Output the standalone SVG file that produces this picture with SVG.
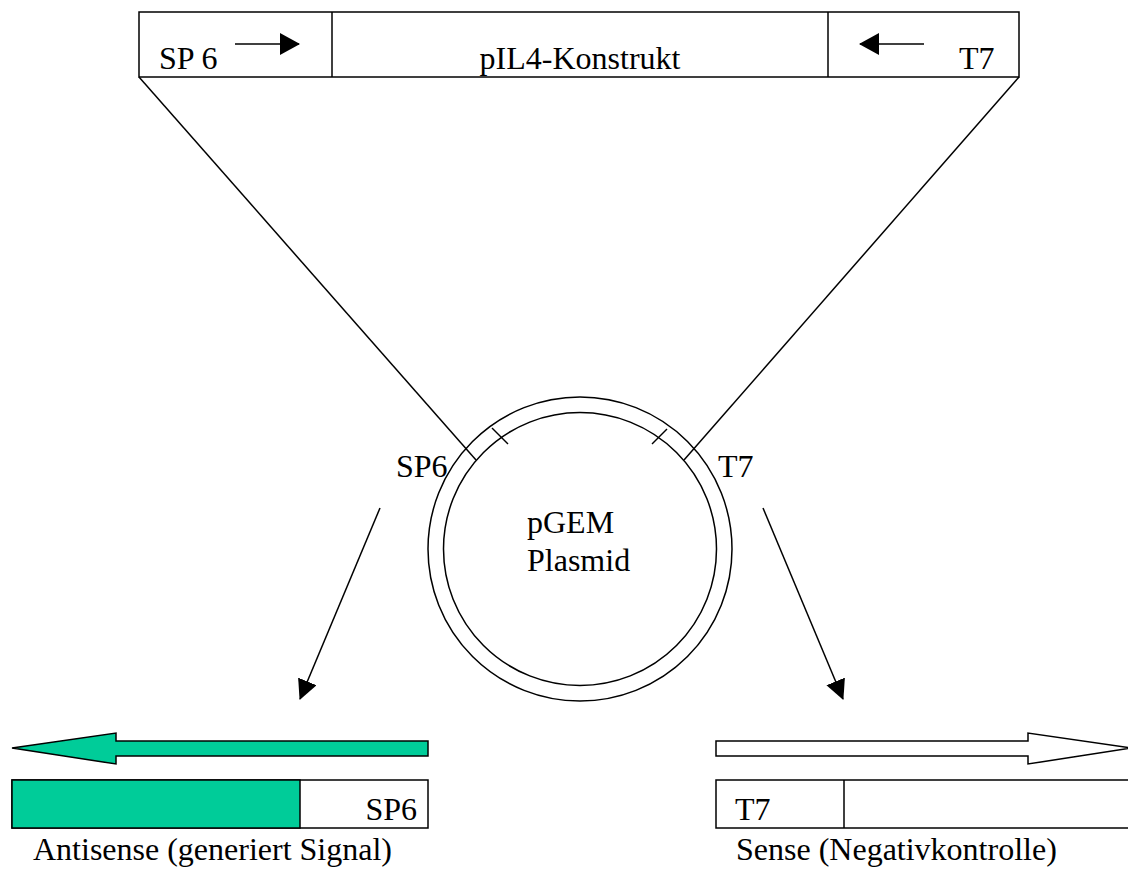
<svg xmlns="http://www.w3.org/2000/svg" width="1128" height="876" viewBox="0 0 1128 876">
<style>
  .t { font-family: "Liberation Serif", "Times New Roman", serif; font-size: 32px; fill: #000; }
  .s { fill: none; stroke: #000; stroke-width: 1.5; }
  .box { fill: #fff; stroke: #000; stroke-width: 1.5; }
  .green { fill: #00CC99; stroke: #000; stroke-width: 1.5; }
</style>
<defs>
  <marker id="ah" viewBox="0 0 20 20" refX="19" refY="10" markerWidth="20" markerHeight="20" markerUnits="userSpaceOnUse" orient="auto">
    <path d="M0,0 L20,10 L0,20 z" fill="#000"/>
  </marker>
  <marker id="ah2" viewBox="0 0 20 22" refX="19" refY="11" markerWidth="20" markerHeight="22" markerUnits="userSpaceOnUse" orient="auto">
    <path d="M0,0 L20,11 L0,22 z" fill="#000"/>
  </marker>
</defs>
<rect width="1128" height="876" fill="#fff"/>

<g id="construct">
  <rect class="box" x="139" y="12" width="880" height="65"/>
  <line class="s" x1="332" y1="12" x2="332" y2="77"/>
  <line class="s" x1="828" y1="12" x2="828" y2="77"/>
  <text class="t" x="159" y="69">SP 6</text>
  <text class="t" x="580" y="69" text-anchor="middle">pIL4-Konstrukt</text>
  <text class="t" x="959" y="69">T7</text>
  <line class="s" x1="235" y1="44" x2="299" y2="44" marker-end="url(#ah2)"/>
  <line class="s" x1="924" y1="44" x2="860" y2="44" marker-end="url(#ah2)"/>
</g>

<g id="plasmid">
  <circle class="s" cx="580" cy="549" r="152"/>
  <circle class="s" cx="580" cy="549" r="136.5"/>
  <line class="s" x1="492" y1="428" x2="508" y2="444"/>
  <line class="s" x1="667" y1="429" x2="652" y2="444"/>
  <text class="t" x="527" y="533">pGEM</text>
  <text class="t" x="527" y="571">Plasmid</text>
  <text class="t" x="396" y="477">SP6</text>
  <text class="t" x="718" y="477">T7</text>
</g>

<g id="connectors">
  <line class="s" x1="139" y1="77" x2="476" y2="460"/>
  <line class="s" x1="1019" y1="77" x2="684" y2="460"/>
  <line class="s" x1="380" y1="508" x2="300" y2="699" marker-end="url(#ah)"/>
  <line class="s" x1="763" y1="508" x2="843" y2="699" marker-end="url(#ah)"/>
</g>

<g id="antisense">
  <polygon class="green" points="428,741 116,741 116,733 12,748 116,764 116,756 428,756"/>
  <rect class="box" x="12" y="780" width="416" height="48"/>
  <rect class="green" x="12" y="780" width="288" height="48"/>
  <text class="t" x="417" y="820" text-anchor="end">SP6</text>
  <text class="t" x="33" y="860">Antisense (generiert Signal)</text>
</g>

<g id="sense">
  <polygon class="box" points="716,741 1028,741 1028,733 1132,748 1028,764 1028,756 716,756"/>
  <rect class="box" x="716" y="780" width="420" height="48"/>
  <line class="s" x1="844" y1="780" x2="844" y2="828"/>
  <text class="t" x="735" y="820">T7</text>
  <text class="t" x="736" y="860">Sense (Negativkontrolle)</text>
</g>
</svg>
